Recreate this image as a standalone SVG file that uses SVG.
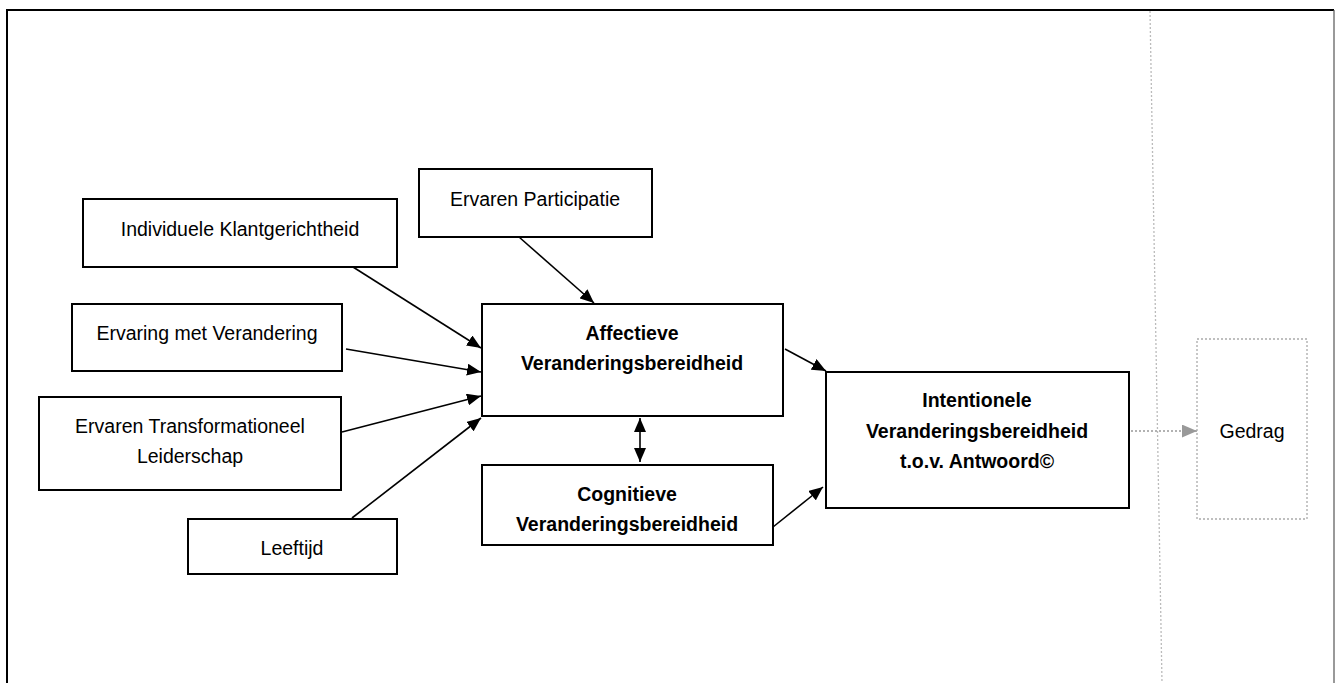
<svg xmlns="http://www.w3.org/2000/svg" width="1335" height="683" viewBox="0 0 1335 683">
<style>
.box{fill:#fff;stroke:#000;stroke-width:2}
.t{font-family:"Liberation Sans",Arial,sans-serif;font-size:19.5px;fill:#000;text-anchor:middle}
.b{font-weight:bold}
.c{stroke:#000;stroke-width:1.6;fill:none}
.dot{stroke:#999;stroke-width:1.3;stroke-dasharray:2 2;fill:none}
</style>
<defs>
<marker id="ah" viewBox="0 0 14 12" refX="14" refY="6" markerWidth="14" markerHeight="12" markerUnits="userSpaceOnUse" orient="auto-start-reverse">
<path d="M0,0 L14,6 L0,12 Z" fill="#000"/>
</marker>
<marker id="ag" viewBox="0 0 14 12" refX="14" refY="6" markerWidth="15" markerHeight="13" markerUnits="userSpaceOnUse" orient="auto">
<path d="M0,0 L14,6 L0,12 Z" fill="#999"/>
</marker>
</defs>
<rect x="0" y="0" width="1335" height="683" fill="#fff"/>
<path d="M7,683 V10 H1334" fill="none" stroke="#000" stroke-width="2"/>
<line x1="1334" y1="10" x2="1334" y2="683" stroke="#555" stroke-width="1.2"/>
<line x1="1150" y1="11" x2="1162" y2="683" stroke="#bbb" stroke-width="1.3" stroke-dasharray="2 2"/>

<g id="connectors">
<line class="c" x1="353" y1="267" x2="481" y2="348" marker-end="url(#ah)"/>
<line class="c" x1="346" y1="349" x2="481" y2="372" marker-end="url(#ah)"/>
<line class="c" x1="342" y1="432" x2="481" y2="396" marker-end="url(#ah)"/>
<line class="c" x1="352" y1="518" x2="481" y2="418" marker-end="url(#ah)"/>
<line class="c" x1="519" y1="237" x2="594" y2="303" marker-end="url(#ah)"/>
<line class="c" x1="785" y1="349" x2="826" y2="371" marker-end="url(#ah)"/>
<line class="c" x1="773" y1="527" x2="823" y2="487" marker-end="url(#ah)"/>
<line class="c" x1="640" y1="418" x2="640" y2="462" marker-start="url(#ah)" marker-end="url(#ah)"/>
<line class="dot" x1="1131" y1="431" x2="1197" y2="431" marker-end="url(#ag)"/>
</g>

<g id="n-participatie">
<rect class="box" x="419" y="169" width="233" height="68"/>
<text class="t" x="535" y="206">Ervaren Participatie</text>
</g>
<g id="n-klant">
<rect class="box" x="83" y="199" width="314" height="68"/>
<text class="t" x="240" y="236">Individuele Klantgerichtheid</text>
</g>
<g id="n-ervaring">
<rect class="box" x="72" y="304" width="270" height="67"/>
<text class="t" x="207" y="340">Ervaring met Verandering</text>
</g>
<g id="n-leiderschap">
<rect class="box" x="39" y="397" width="302" height="93"/>
<text class="t" x="190" y="433">Ervaren Transformationeel</text>
<text class="t" x="190" y="463">Leiderschap</text>
</g>
<g id="n-leeftijd">
<rect class="box" x="188" y="519" width="209" height="55"/>
<text class="t" x="292" y="555">Leeftijd</text>
</g>
<g id="n-affectief">
<rect class="box" x="482" y="304" width="301" height="112"/>
<text class="t b" x="632" y="340">Affectieve</text>
<text class="t b" x="632" y="370">Veranderingsbereidheid</text>
</g>
<g id="n-cognitief">
<rect class="box" x="482" y="465" width="291" height="80"/>
<text class="t b" x="627" y="501">Cognitieve</text>
<text class="t b" x="627" y="531">Veranderingsbereidheid</text>
</g>
<g id="n-intentioneel">
<rect class="box" x="826" y="372" width="303" height="136"/>
<text class="t b" x="977" y="407">Intentionele</text>
<text class="t b" x="977" y="438">Veranderingsbereidheid</text>
<text class="t b" x="977" y="468">t.o.v. Antwoord©</text>
</g>
<g id="n-gedrag">
<rect x="1197" y="339" width="110" height="180" fill="#fff" stroke="#aaa" stroke-width="1.3" stroke-dasharray="2 2"/>
<text class="t" x="1252" y="438">Gedrag</text>
</g>
</svg>
